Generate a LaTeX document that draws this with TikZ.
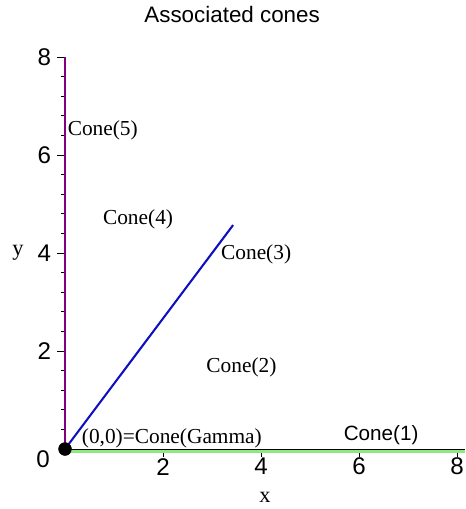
\documentclass[tikz,border=0pt]{standalone}
\usepackage{fontspec}
\setmainfont{Liberation Serif}
\setsansfont{Liberation Sans}
\usetikzlibrary{positioning}
\definecolor{conepurple}{HTML}{800080}
\definecolor{coneblue}{HTML}{1010C0}
\definecolor{conegreen}{HTML}{8FE880}

\begin{document}
\begin{tikzpicture}[
      conelabel/.style={font=\fontsize{12.4}{14}\selectfont, inner sep=0pt},
      ticklabel/.style={font=\sffamily\fontsize{14}{16}\selectfont, inner sep=0pt},
      axislabel/.style={font=\fontsize{13}{15}\selectfont, inner sep=0pt},
      majortick/.style={line width=0.5pt},
      minortick/.style={line width=0.4pt},
      ray/.style={line width=1.2pt}
    ]
    \useasboundingbox (-1.327,-1.224) rectangle (8.163,9.163);

    % title and axis names
    \node[font=\sffamily\fontsize{13}{15}\selectfont] (title) at (3.41,8.86) {Associated cones};
    \node[axislabel] (xname) at (4.08,-0.98) {x};
    \node[axislabel] (yname) at (-0.96,4.0) {y};

    % axes with ticks
    \coordinate (xend) at (8.16,0);
    \coordinate (yend) at (0,8);
    \draw[line width=0.5pt] (0,0) -- (xend);
    \draw[line width=0.5pt] (0,0) -- (yend);
    \foreach \t in {0.4,0.8,...,7.7}{
      \draw[minortick] (\t,0) -- (\t,-0.09);
      \draw[minortick] (0,\t) -- (-0.09,\t);
    }
    \foreach \t in {2,4,6,8}{
      \draw[majortick] (\t,0) -- (\t,-0.17);
      \draw[majortick] (0,\t) -- (-0.17,\t);
      \node[ticklabel] (xt\t) at (\t,-0.36) {\t};
      \node[ticklabel] (yt\t) at (-0.42,\t) {\t};
    }
    \node[ticklabel] (xy0) at (-0.45,-0.2) {0};

    % cones
    \node[circle, fill=black, inner sep=0pt, minimum size=0.27cm] (origin) at (0,0) {};
    \coordinate (c1end) at (8.16,-0.05);
    \coordinate (c3end) at (3.43,4.57);
    \coordinate (c5end) at (0,8);
    \draw[conegreen, line width=1.6pt] ([yshift=-0.05cm]origin.center) -- (c1end);
    \draw[black, line width=0.5pt] (origin.center) -- (xend);
    \draw[coneblue, ray] (origin.center) -- (c3end);
    \draw[conepurple, ray, line width=1.7pt] (origin.center) -- (c5end);
    \node[circle, fill=black, inner sep=0pt, minimum size=0.27cm] at (origin) {};

    \node[conelabel] (cone5) at (0.77,6.5) {Cone(5)};
    \node[conelabel] (cone4) at (1.49,4.69) {Cone(4)};
    \node[conelabel] (cone3) at (3.9,3.98) {Cone(3)};
    \node[conelabel] (cone2) at (3.6,1.67) {Cone(2)};
    \node[font=\sffamily\fontsize{12}{14}\selectfont, inner sep=0pt] (cone1) at (6.45,0.29) {Cone(1)};
    \node[conelabel] (gamma) at (2.18,0.22) {(0,0)=Cone(Gamma)};
  \end{tikzpicture}
\end{document}
